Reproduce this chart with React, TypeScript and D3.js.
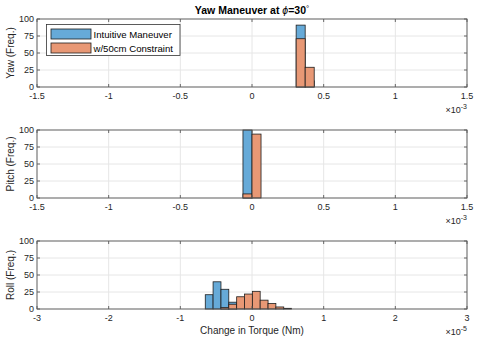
import * as d3 from "d3";

// histogram bin edges (x in units of the axis exponent) and counts
const yawEdges = [0.308, 0.371, 0.434]; // x1e-3
const yawIntuitive = [91, 9];
const yawConstraint = [71, 29];

const pitchEdges = [-0.063, 0, 0.063]; // x1e-3
const pitchIntuitive = [100, 0];
const pitchConstraint = [6, 94];

const rollEdges = [-0.652, -0.543, -0.433, -0.324, -0.214, -0.105, 0.005, 0.114, 0.224, 0.333, 0.443, 0.552]; // x1e-5
const rollIntuitive = [21, 40, 29, 10, 0, 0, 0, 0, 0, 0, 0];
const rollConstraint = [0, 0, 2, 7, 18, 22, 26, 13, 8, 3, 1];

const smallTicks = [-1.5, -1, -0.5, 0, 0.5, 1, 1.5];
const rollTicks = [-3, -2, -1, 0, 1, 2, 3];
const freqTicks = [0, 25, 50, 75, 100];

const seriesNames = ["Intuitive Maneuver", "w/50cm Constraint"];
const COLORS = ["#66AAD8", "#E89875"];

const W = 478;
const H = 343;
const LEFT = 37;
const RIGHT = 467;
const FONT = "'Liberation Sans', Arial, Helvetica, sans-serif";
const TXT = "#262626";

const panels = [
  { label: "Yaw (Freq.)", top: 19, edges: yawEdges, a: yawIntuitive, b: yawConstraint, ticks: smallTicks, dom: [-1.5, 1.5], exp: "-3" },
  { label: "Pitch (Freq.)", top: 130, edges: pitchEdges, a: pitchIntuitive, b: pitchConstraint, ticks: smallTicks, dom: [-1.5, 1.5], exp: "-3" },
  { label: "Roll (Freq.)", top: 241, edges: rollEdges, a: rollIntuitive, b: rollConstraint, ticks: rollTicks, dom: [-3, 3], exp: "-5" },
];
const PH = 68;

const Panel = ({ p }) => {
  const x = d3.scaleLinear().domain(p.dom).range([LEFT, RIGHT]);
  const y = d3.scaleLinear().domain([0, 100]).range([p.top + PH, p.top]);
  const bottom = p.top + PH;

  const bars = (counts, color, key) =>
    counts.map((c, i) =>
      c > 0 ? (
        <rect
          key={key + i}
          x={x(p.edges[i])}
          y={y(c)}
          width={x(p.edges[i + 1]) - x(p.edges[i])}
          height={bottom - y(c)}
          fill={color}
          stroke="#1e1e1e"
          strokeWidth={0.8}
        />
      ) : null
    );

  return (
    <g>
      {/* grid */}
      {p.ticks.map((t) => (
        <line key={"gx" + t} x1={x(t)} x2={x(t)} y1={p.top} y2={bottom} stroke="#e6e6e6" strokeWidth={1} />
      ))}
      {freqTicks.map((t) => (
        <line key={"gy" + t} x1={LEFT} x2={RIGHT} y1={y(t)} y2={y(t)} stroke="#e6e6e6" strokeWidth={1} />
      ))}
      {bars(p.a, COLORS[0], "a")}
      {bars(p.b, COLORS[1], "b")}
      {/* box */}
      <rect x={LEFT} y={p.top} width={RIGHT - LEFT} height={PH} fill="none" stroke="#5a5a5a" strokeWidth={0.9} />
      {p.ticks.map((t) => (
        <g key={"tx" + t}>
          <line x1={x(t)} x2={x(t)} y1={bottom} y2={bottom - 3} stroke="#5a5a5a" strokeWidth={0.9} />
          <line x1={x(t)} x2={x(t)} y1={p.top} y2={p.top + 3} stroke="#5a5a5a" strokeWidth={0.9} />
          <text x={x(t)} y={bottom + 12} textAnchor="middle" fontSize={9} fill={TXT}>
            {t}
          </text>
        </g>
      ))}
      {freqTicks.map((t) => (
        <g key={"ty" + t}>
          <line x1={LEFT} x2={LEFT + 3} y1={y(t)} y2={y(t)} stroke="#5a5a5a" strokeWidth={0.9} />
          <line x1={RIGHT} x2={RIGHT - 3} y1={y(t)} y2={y(t)} stroke="#5a5a5a" strokeWidth={0.9} />
          <text x={LEFT - 3} y={y(t) + 3.2} textAnchor="end" fontSize={9} fill={TXT}>
            {t}
          </text>
        </g>
      ))}
      <text
        transform={`translate(14,${p.top + PH / 2}) rotate(-90)`}
        textAnchor="middle"
        fontSize={10}
        fill={TXT}
      >
        {p.label}
      </text>
      <text x={RIGHT} y={bottom + 26} textAnchor="end" fontSize={9} fill={TXT}>
        ×10<tspan dy={-4} fontSize={7}>{p.exp}</tspan>
      </text>
    </g>
  );
};

export default function App() {
  return (
    <svg
      width={W}
      height={H}
      style={{ position: "absolute", left: 0, top: 0, background: "white", fontFamily: FONT }}
    >
      <rect width={W} height={H} fill="white" />
      {panels.map((p) => (
        <Panel key={p.label} p={p} />
      ))}
      <text x={(LEFT + RIGHT) / 2} y={14} textAnchor="middle" fontSize={10.5} fontWeight="bold" fill="#000">
        Yaw Maneuver at <tspan fontStyle="italic" fontWeight="normal">ϕ</tspan>=30
        <tspan dy={-3} fontSize={8} fontWeight="normal">°</tspan>
      </text>
      <text x={(LEFT + RIGHT) / 2} y={334} textAnchor="middle" fontSize={10} fill={TXT}>
        Change in Torque (Nm)
      </text>
      {/* legend */}
      <g>
        <rect x={46.5} y={24.5} width={133.5} height={31} fill="white" stroke="#333" strokeWidth={0.8} />
        {seriesNames.map((n, i) => (
          <g key={n}>
            <rect x={51} y={29 + i * 14} width={40} height={10} fill={COLORS[i]} stroke="#1e1e1e" strokeWidth={0.8} />
            <text x={93.5} y={37.5 + i * 14} fontSize={9.6} fill="#000">
              {n}
            </text>
          </g>
        ))}
      </g>
    </svg>
  );
}
